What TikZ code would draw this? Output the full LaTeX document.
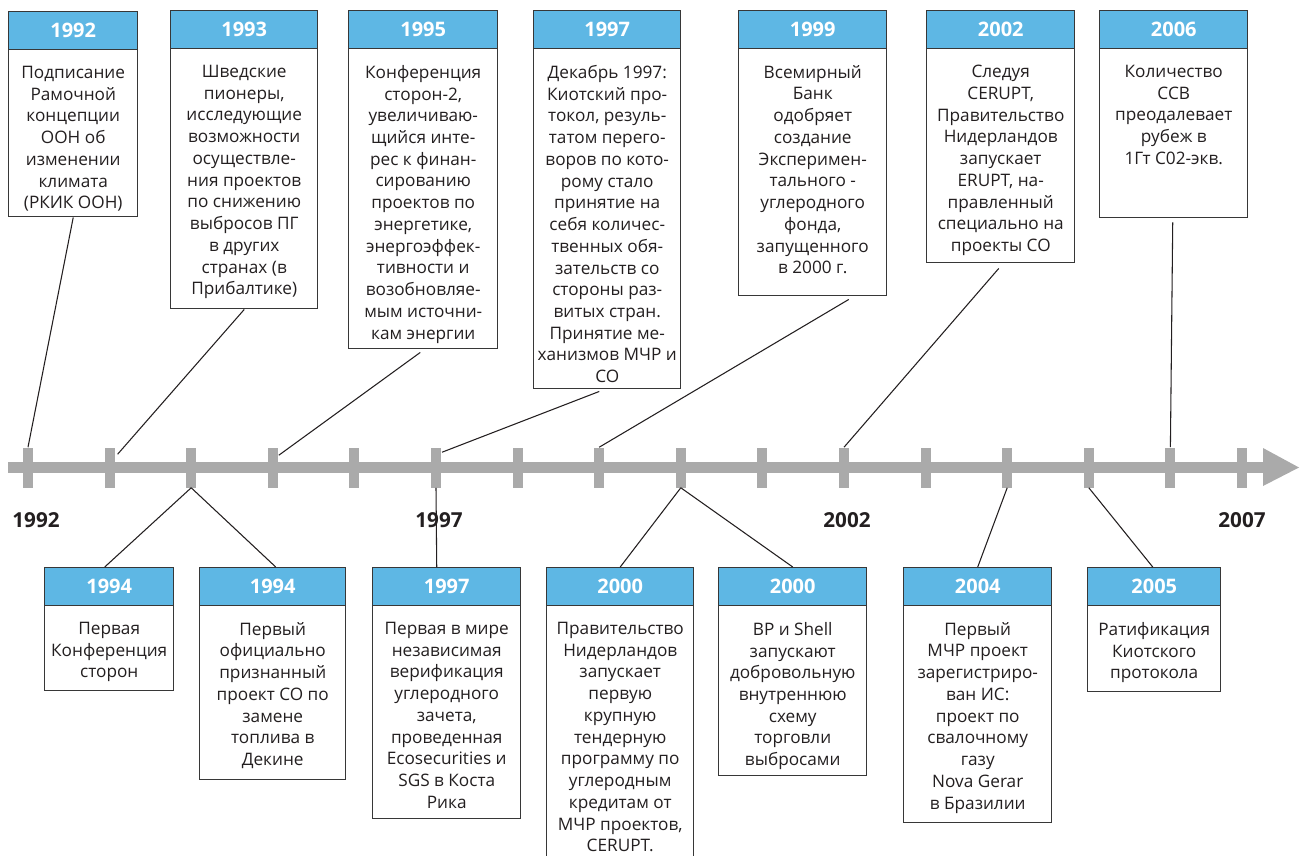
\documentclass[tikz,border=0pt]{standalone}
\usepackage{fontspec}
\setmainfont{Open Sans}
\usetikzlibrary{calc}
\definecolor{hdrblue}{RGB}{94,183,228}
\definecolor{axisgray}{RGB}{170,170,170}
\definecolor{ink}{RGB}{35,31,32}
\definecolor{framegray}{RGB}{55,55,55}

\tikzset{
  card/.style={draw=framegray, line width=1.1pt, fill=white, inner sep=0pt, rectangle},
  hdr/.style={draw=framegray, line width=1.1pt, fill=hdrblue, inner sep=0pt,
    minimum height=28.5pt, text=white, font=\fontsize{15}{16}\selectfont\bfseries},
  body/.style={inner sep=0pt, align=center, text=ink, font=\fontsize{12.9}{16.3}\selectfont},
  tickmark/.style={fill=axisgray, inner sep=0pt, minimum width=7.5pt, minimum height=30pt},
  conn/.style={draw=ink, line width=0.8pt},
  yearlab/.style={text=ink, font=\fontsize{15.5}{18}\selectfont\bfseries},
}

% event card: name, left, top, right, bottom, year, text
\newcommand\evbox[7]{%
  \pgfmathsetmacro\evw{(#4-#2)*0.75}%
  \pgfmathsetmacro\evh{(#5-#3)*0.75}%
  \node[card, minimum width=\evw pt, minimum height=\evh pt, anchor=north west] (#1) at (#2,#3) {};
  \node[hdr, minimum width=\evw pt, anchor=north west] (#1h) at (#2,#3) {#6};
  \node[body, anchor=north] (#1t) at ($(#1h.south)+(0,15.5)$) {#7};
}

\begin{document}
\begin{tikzpicture}[x=0.75pt, y=-0.75pt]
\useasboundingbox (0,0) rectangle (1300,856);

% time axis
\fill[axisgray] (8,462) rectangle (1263,473);
\fill[axisgray] (1263,448) -- (1299,467.5) -- (1263,486) -- cycle;
\foreach \i in {0,...,14} {
  \node[tickmark] (k\i) at ({28+81.6*\i},467.5) {};
}
\node[tickmark] (k15) at (1242,467.5) {};

\node[yearlab] (y1992) at (36,520.5) {1992};
\node[yearlab] (y1997) at (439,520.5) {1997};
\node[yearlab] (y2002) at (847,520.5) {2002};
\node[yearlab] (y2007) at (1242,520.5) {2007};

% upper events
\evbox{b92}{8}{11}{137}{216}{1992}{Подписание\\Рамочной\\концепции\\ООН об\\изменении\\климата\\(РКИК ООН)}
\evbox{b93}{170}{10}{317}{308}{1993}{Шведские\\пионеры,\\исследующие\\возможности\\осуществле-\\ния проектов\\по снижению\\выбросов ПГ\\в других\\странах (в\\Прибалтике)}
\evbox{b95}{348}{10}{497}{348}{1995}{Конференция\\сторон-2,\\увеличиваю-\\щийся инте-\\рес к финан-\\сированию\\проектов по\\энергетике,\\энергоэффек-\\тивности и\\возобновляе-\\мым источни-\\кам энергии}
\evbox{b97}{533}{10}{680}{388}{1997}{Декабрь 1997:\\Киотский про-\\токол, резуль-\\татом перего-\\воров по кото-\\рому стало\\принятие на\\себя количес-\\твенных обя-\\зательств со\\стороны раз-\\витых стран.\\Принятие ме-\\ханизмов МЧР и\\СО}
\evbox{b99}{738}{10}{886}{295}{1999}{Всемирный\\Банк\\одобряет\\создание\\Эксперимен-\\тального -\\углеродного\\фонда,\\запущенного\\в 2000 г.}
\evbox{b02}{926}{10}{1074}{262}{2002}{Следуя\\CERUPT,\\Правительство\\Нидерландов\\запускает\\ERUPT, на-\\правленный\\специально на\\проекты СО}
\evbox{b06}{1099}{10}{1247}{217}{2006}{Количество\\ССВ\\преодалевает\\рубеж в\\1Гт С02-экв.}

% lower events
\evbox{b94a}{44}{567}{173}{690}{1994}{Первая\\Конференция\\сторон}
\evbox{b94b}{199}{567}{345}{779}{1994}{Первый\\официально\\признанный\\проект СО по\\замене\\топлива в\\Декине}
\evbox{b97b}{372}{567}{520}{818}{1997}{Первая в мире\\независимая\\верификация\\углеродного\\зачета,\\проведенная\\Ecosecurities и\\SGS в Коста\\Рика}
\evbox{b00a}{546}{567}{693}{862}{2000}{Правительство\\Нидерландов\\запускает\\первую\\крупную\\тендерную\\программу по\\углеродным\\кредитам от\\МЧР проектов,\\CERUPT.}
\evbox{b00b}{718}{567}{866}{775}{2000}{BP и Shell\\запускают\\добровольную\\внутреннюю\\схему\\торговли\\выбросами}
\evbox{b04}{903}{567}{1051}{822}{2004}{Первый\\МЧР проект\\зарегистриро-\\ван ИС:\\проект по\\свалочному\\газу\\Nova Gerar\\в Бразилии}
\evbox{b05}{1087}{567}{1220}{691}{2005}{Ратификация\\Киотского\\протокола}

% connectors, upper row
\draw[conn] (b92.south) -- (k0.north);
\draw[conn] (b93.south) -- ($(k1.north)+(8,7)$);
\draw[conn] ($(b95.south)+(-3,3)$) -- ($(k3.north)+(6,8)$);
\draw[conn] ($(b97.south)+(-8,2)$) -- ($(k5.north)+(6,5)$);
\draw[conn] ($(b99.south)+(36,3)$) -- (k7.north);
\draw[conn] ($(b02.south)+(-2,5)$) -- (k10.north);
\draw[conn] ($(b06.south)+(-1,4)$) -- (k14.north);

% connectors, lower row
\draw[conn] (k2.south) -- ($(b94ah.north)+(-4.5,0)$);
\draw[conn] (k2.south) -- ($(b94bh.north)+(3,0)$);
\draw[conn] (k5.south) -- ($(b97bh.north)+(-10,0)$);
\draw[conn] (k8.south) -- (b00ah.north);
\draw[conn] (k8.south) -- (b00bh.north);
\draw[conn] (k12.south) -- (b04h.north);
\draw[conn] (k13.south) -- ($(b05h.north)+(-1.5,0)$);
\end{tikzpicture}
\end{document}
